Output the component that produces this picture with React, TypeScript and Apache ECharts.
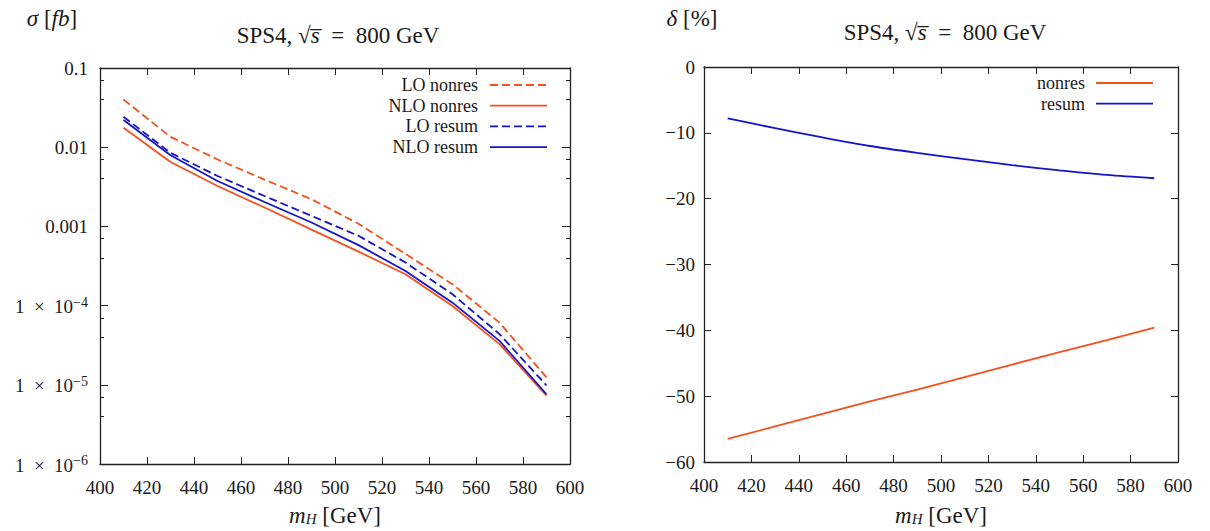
import React, { useEffect, useRef } from 'react';
import * as echarts from 'echarts';

// ---- data ----
const massGeV = [410, 430, 450, 470, 490, 510, 530, 550, 570, 590];
const loNonres = [0.040, 0.0135, 0.0070, 0.0039, 0.0022, 0.00108, 0.00045, 0.000186, 0.000061, 0.0000124];
const nloNonres = [0.0176, 0.0065, 0.00324, 0.00173, 0.00091, 0.00048, 0.000249, 0.000099, 0.0000326, 0.0000073];
const loResum = [0.0242, 0.0085, 0.00433, 0.00242, 0.00136, 0.00076, 0.00035, 0.000139, 0.0000437, 0.0000098];
const nloResum = [0.022, 0.0079, 0.00374, 0.00203, 0.00112, 0.00058, 0.000274, 0.000109, 0.0000359, 0.0000076];
const deltaNonres = [-56.5, -54.6, -52.7, -50.8, -49.0, -47.1, -45.2, -43.3, -41.5, -39.6];
const deltaResum = [-7.8, -9.3, -10.7, -12.0, -13.05, -14.0, -14.9, -15.7, -16.4, -16.9];
const leftLegend = ['LO nonres', 'NLO nonres', 'LO resum', 'NLO resum'];
const rightLegend = ['nonres', 'resum'];
const titleText = 'SPS4, √{i|s̅}\u2002=\u2002800 GeV';

const ORANGE = '#f4511e';
const BLUE = '#1414c8';
const FONT = 'Liberation Serif, DejaVu Serif, serif';
const TXT = '#1a1a1a';
const AX = '#222';
const TICK_FS = 19;
const TITLE_FS = 23;
const LEGEND_FS = 18;
const LABEL_FS = 23;

const pairs = (ys: number[]) => massGeV.map((m, i) => [m, ys[i]]);

function xAxes(grid: number) {
  const base = {
    type: 'value' as const,
    gridIndex: grid,
    min: 400,
    max: 600,
    interval: 20,
    splitLine: { show: false },
    axisLine: { show: true, onZero: false, lineStyle: { color: AX, width: 1.3 } },
    axisTick: { show: true, inside: true, length: 7, lineStyle: { color: AX, width: 1 } },
  };
  return [
    { ...base, position: 'bottom', axisLabel: { show: true, margin: 14, fontSize: TICK_FS, fontFamily: FONT, color: TXT } },
    { ...base, position: 'top', axisLabel: { show: false } },
  ];
}

const logLabel = (v: number) => {
  const e = Math.round(Math.log10(v));
  if (e >= -3) return Math.pow(10, e).toFixed(-e);
  return `{b|1\u2002×\u200210}{sup|−${-e}}`;
};

export default function App() {
  const ref = useRef<HTMLDivElement>(null);
  useEffect(() => {
    if (!ref.current) return;
    const chart = echarts.init(ref.current, undefined, { renderer: 'svg' });
    const logAxisBase = {
      type: 'log' as const,
      logBase: 10,
      gridIndex: 0,
      min: 1e-6,
      max: 0.1,
      splitLine: { show: false },
      axisLine: { show: true, lineStyle: { color: AX, width: 1.3 } },
      axisTick: { show: true, inside: true, length: 8, lineStyle: { color: AX } },
      minorTick: { show: true, splitNumber: 3, length: 4, lineStyle: { color: AX } },
    };
    const linAxisBase = {
      type: 'value' as const,
      gridIndex: 1,
      min: -60,
      max: 0,
      interval: 10,
      splitLine: { show: false },
      axisLine: { show: true, onZero: false, lineStyle: { color: AX, width: 1.3 } },
      axisTick: { show: true, inside: true, length: 7, lineStyle: { color: AX } },
    };
    const richItalic = { i: { fontStyle: 'italic', fontSize: LABEL_FS, fontFamily: FONT, color: TXT } };
    const textEl = (x: number, y: number, text: string, align: string, size: number, rich?: any, lineHeight?: number) => ({
      type: 'text',
      x,
      y,
      style: {
        text,
        fontSize: size,
        fontFamily: FONT,
        fill: TXT,
        align,
        textAlign: align,
        verticalAlign: 'middle',
        textVerticalAlign: 'middle',
        lineHeight,
        rich,
      },
    });
    const legendEls: any[] = [];
    const leftStyles = [
      { c: ORANGE, d: [8, 4] },
      { c: ORANGE, d: null },
      { c: BLUE, d: [8, 4] },
      { c: BLUE, d: null },
    ];
    leftLegend.forEach((name, i) => {
      const y = 85 + i * 20.7;
      legendEls.push(textEl(478, y, name, 'right', LEGEND_FS, undefined, 18));
      legendEls.push({
        type: 'line',
        shape: { x1: 490, y1: y, x2: 547, y2: y },
        style: { stroke: leftStyles[i].c, lineWidth: 1.8, lineDash: leftStyles[i].d },
      });
    });
    const rightCols = [ORANGE, BLUE];
    rightLegend.forEach((name, i) => {
      const y = 83 + i * 20.7;
      legendEls.push(textEl(1085, y, name, 'right', LEGEND_FS, undefined, 18));
      legendEls.push({
        type: 'line',
        shape: { x1: 1096, y1: y, x2: 1153, y2: y },
        style: { stroke: rightCols[i], lineWidth: 1.8 },
      });
    });
    const subRich = {
      i: { fontStyle: 'italic', fontSize: LABEL_FS, fontFamily: FONT, color: TXT },
      sub: { fontSize: 15, fontStyle: 'italic', fontFamily: FONT, color: TXT, verticalAlign: 'bottom', padding: [8, 0, 0, 0] },
    };
    const titleStyle = {
      fontSize: TITLE_FS,
      fontWeight: 'normal',
      fontFamily: FONT,
      color: TXT,
      rich: { i: { fontStyle: 'italic', fontSize: TITLE_FS, fontFamily: FONT, color: TXT } },
    };

    const option: any = {
      animation: false,
      backgroundColor: '#fff',
      textStyle: { fontFamily: FONT },
      title: [
        { text: titleText, left: 333, top: 19, textAlign: 'center', textStyle: titleStyle },
        { text: titleText, left: 940, top: 16, textAlign: 'center', textStyle: titleStyle },
      ],
      grid: [
        { left: 100, top: 68, width: 470, height: 396 },
        { left: 704, top: 67, width: 474, height: 395 },
      ],
      xAxis: [...xAxes(0), ...xAxes(1)],
      yAxis: [
        {
          ...logAxisBase,
          position: 'left',
          axisLabel: {
            show: true,
            margin: 12,
            fontSize: TICK_FS,
            fontFamily: FONT,
            color: TXT,
            formatter: logLabel,
            rich: {
              b: { fontSize: TICK_FS, fontFamily: FONT, color: TXT, lineHeight: 21, verticalAlign: 'bottom' },
              sup: { fontSize: 14, fontFamily: FONT, color: TXT, lineHeight: 14, verticalAlign: 'top' },
            },
          },
        },
        { ...logAxisBase, position: 'right', axisLabel: { show: false } },
        {
          ...linAxisBase,
          position: 'left',
          axisLabel: {
            show: true,
            margin: 9,
            fontSize: TICK_FS,
            fontFamily: FONT,
            color: TXT,
            formatter: (v: number) => (v < 0 ? '−' + Math.abs(v) : String(v)),
          },
        },
        { ...linAxisBase, position: 'right', axisLabel: { show: false } },
      ],
      series: [
        { name: leftLegend[0], type: 'line', xAxisIndex: 0, yAxisIndex: 0, data: pairs(loNonres), showSymbol: false, lineStyle: { color: ORANGE, width: 1.8, type: [8, 4] } },
        { name: leftLegend[1], type: 'line', xAxisIndex: 0, yAxisIndex: 0, data: pairs(nloNonres), showSymbol: false, lineStyle: { color: ORANGE, width: 1.8 } },
        { name: leftLegend[2], type: 'line', xAxisIndex: 0, yAxisIndex: 0, data: pairs(loResum), showSymbol: false, lineStyle: { color: BLUE, width: 1.8, type: [8, 4] } },
        { name: leftLegend[3], type: 'line', xAxisIndex: 0, yAxisIndex: 0, data: pairs(nloResum), showSymbol: false, lineStyle: { color: BLUE, width: 1.8 } },
        { name: rightLegend[0], type: 'line', xAxisIndex: 2, yAxisIndex: 2, data: pairs(deltaNonres), showSymbol: false, lineStyle: { color: ORANGE, width: 1.8 } },
        { name: rightLegend[1], type: 'line', xAxisIndex: 2, yAxisIndex: 2, data: pairs(deltaResum), showSymbol: false, smooth: 0.3, lineStyle: { color: BLUE, width: 1.8 } },
      ],
      graphic: [
        textEl(52, 18, '{i|σ} [{i|fb}]', 'center', LABEL_FS, richItalic),
        textEl(692, 18, '{i|δ} [%]', 'center', LABEL_FS, richItalic),
        textEl(335, 515, '{i|m}{sub|H} [GeV]', 'center', LABEL_FS, subRich),
        textEl(941, 515, '{i|m}{sub|H} [GeV]', 'center', LABEL_FS, subRich),
        ...legendEls,
      ],
    };
    chart.setOption(option);
    return () => chart.dispose();
  }, []);
  return <div ref={ref} style={{ position: 'absolute', left: 0, top: 0, width: 1210, height: 531 }} />;
}
